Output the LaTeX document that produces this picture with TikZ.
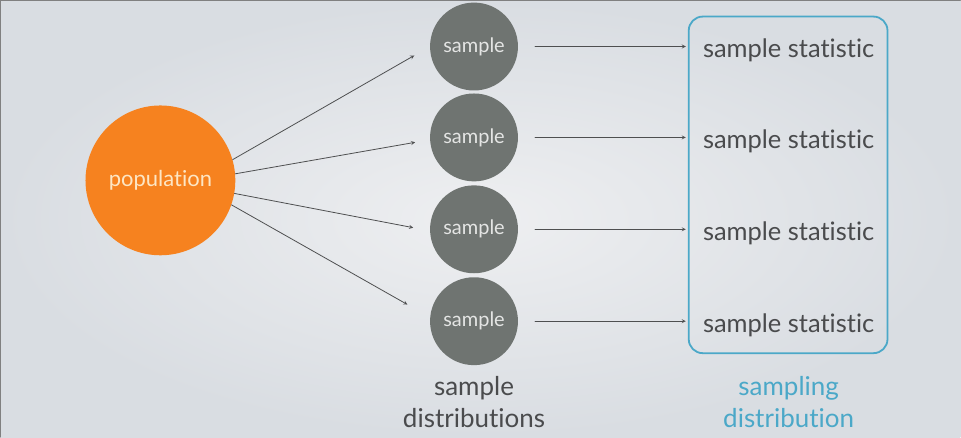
\documentclass[tikz,border=0pt]{standalone}
\usepackage{fontspec}
\setmainfont{Lato}[Ligatures=NoCommon]
\definecolor{popOrange}{HTML}{F6821F}
\definecolor{popText}{HTML}{FDE6C4}
\definecolor{sampGrey}{HTML}{6F7471}
\definecolor{sampText}{HTML}{E4E5E4}
\definecolor{lineGrey}{HTML}{4E4F50}
\definecolor{textGrey}{HTML}{4A4B4D}
\definecolor{boxBlue}{HTML}{4BA8C8}
\definecolor{bgIn}{HTML}{EEEFF1}
\definecolor{bgOut}{HTML}{D9DDE2}
\begin{document}
\begin{tikzpicture}[line join=round, line cap=round,>=stealth, x=1pt, y=-1pt]
	\tikzset{popnode/.style={circle, fill=popOrange, minimum size=150pt, inner sep=0pt, text=popText, font=\fontsize{22}{26}\selectfont}}
	\tikzset{sampnode/.style={circle, fill=sampGrey, minimum size=88pt, inner sep=0pt, text=sampText, font=\fontsize{20}{24}\selectfont}}
	\tikzset{statnode/.style={inner sep=0pt, anchor=base, text=textGrey, font=\fontsize{25.5}{32}\selectfont}}
	\tikzset{captext/.style={inner sep=0pt, align=center, font=\fontsize{26}{32}\selectfont}}
	\tikzset{link/.style={->, draw=lineGrey, line width=0.8pt}}
	% background
	\shade[inner color=bgIn, outer color=bgOut] (0,0) rectangle (961,437);
	\draw[gray, line width=1.2pt] (0,437) -- (0,0) -- (961,0);
	% population and samples
	\node[popnode] (pop) at (160,180) {population};
	\foreach \i/\y in {1/46,2/137,3/229,4/321}{
		\node[sampnode] (s\i) at (474,\y) {sample};
		\node[statnode] (st\i) at (789,\y+11) {sample statistic};
		\draw[link, shorten <=17pt, shorten >=17pt] (s\i.east) -- (s\i.east -| st\i.west);
	}
	\draw[link, shorten >=18pt] (pop.16) -- (s1.180);
	\draw[link, shorten >=15pt] (pop.5) -- (s2.183);
	\draw[link, shorten >=17pt] (pop.-10) -- (s3.182);
	\draw[link, shorten >=26pt] (pop.-19) -- (s4.175);
	% sampling distribution box
	\draw[boxBlue, line width=1.8pt, rounded corners=14pt] (689,16) rectangle (888,353);
	\node[captext, text=textGrey] (sdist) at (474,402) {sample\\distributions};
	\node[captext, text=boxBlue] (sgdist) at (789,402) {sampling\\distribution};
\end{tikzpicture}
\end{document}
